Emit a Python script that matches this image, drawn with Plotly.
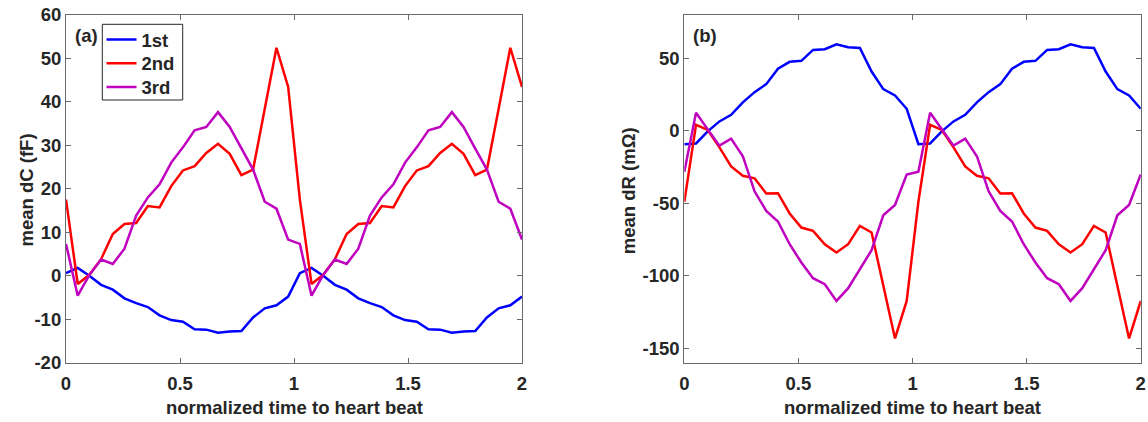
import numpy as np
import plotly.graph_objects as go

# Normalised time base: two heart beats, 20 samples per beat
beats = 2
samples_per_beat = 20
t = np.linspace(0, beats, beats * samples_per_beat)

series_names = ["1st", "2nd", "3rd"]
series_colors = ["#0000FF", "#FF0000", "#BF00BF"]

# Mean capacitance change per beat (fF)
dC_1st = [0.6, 1.8, 0.0, -2.1, -3.2, -5.2, -6.3, -7.2, -9.1, -10.2,
          -10.6, -12.3, -12.4, -13.1, -12.8, -12.7, -9.6, -7.5, -6.8, -4.8]
dC_2nd = [17.5, -1.9, 0.2, 3.8, 9.6, 11.9, 12.1, 16.0, 15.7, 20.6,
          24.2, 25.2, 28.2, 30.3, 28.0, 23.1, 24.4, 38.3, 52.4, 43.4]
dC_3rd = [7.3, -4.6, 0.2, 3.7, 2.7, 6.2, 13.8, 18.0, 21.0, 26.0,
          29.5, 33.4, 34.2, 37.6, 34.2, 29.2, 24.4, 17.0, 15.4, 8.3]

# Mean resistance change per beat (mOhm)
dR_1st = [-9.3, -8.8, -0.5, 6.4, 11.0, 19.5, 26.6, 32.1, 42.7, 47.5,
          48.2, 55.7, 56.2, 59.6, 57.6, 57.1, 40.8, 28.7, 24.3, 15.1]
dR_2nd = [-49.0, 4.1, 0.5, -11.5, -24.7, -31.1, -32.8, -43.3, -43.1, -57.1,
          -66.8, -69.1, -78.3, -84.0, -78.3, -65.6, -70.2, -107.0, -143.3, -117.4]
dR_3rd = [-28.3, 12.4, 0.9, -10.3, -5.5, -17.6, -41.8, -55.3, -62.6, -78.3,
          -90.9, -101.7, -105.9, -117.4, -108.6, -95.0, -82.4, -58.3, -51.2, -30.2]

x_ticks = [0, 0.5, 1, 1.5, 2]
x_ticktext = ["0", "0.5", "1", "1.5", "2"]
dC_ticks = [-20, -10, 0, 10, 20, 30, 40, 50, 60]
dR_ticks = [-150, -100, -50, 0, 50]

FONT = "Liberation Sans, Arial, Helvetica, sans-serif"
FS = 18.5
INK = "#262626"
AXIS = "#6a6a6a"


def px_x(p):
    return p / 1148


def px_y(p):
    return 1 - p / 422


fig = go.Figure()

panel_a = [dC_1st, dC_2nd, dC_3rd]
panel_b = [dR_1st, dR_2nd, dR_3rd]
legend_ids = ["legend", "legend2", "legend3"]

for name, color, beat, lid in zip(series_names, series_colors, panel_a, legend_ids):
    fig.add_trace(go.Scatter(
        x=t, y=beat * beats, mode="lines", name=name,
        line=dict(color=color, width=2.5),
        xaxis="x", yaxis="y", showlegend=True, legend=lid))

for name, color, beat in zip(series_names, series_colors, panel_b):
    fig.add_trace(go.Scatter(
        x=t, y=beat * beats, mode="lines", name=name,
        line=dict(color=color, width=2.5),
        xaxis="x2", yaxis="y2", showlegend=False))

axis_common = dict(
    showline=True, linecolor=AXIS, linewidth=1.2, mirror="allticks",
    ticks="inside", ticklen=5, tickwidth=1.2, tickcolor=AXIS,
    showgrid=False, zeroline=False, automargin=False,
    tickfont=dict(family=FONT, size=FS, color=INK, weight="bold"),
)

y_dom = [0.1405, 0.9652]

# One legend per entry so the rows sit at a tighter pitch inside a shared frame
legend_rows = [40.0, 63.7, 87.4]
legend_layout = {}
for lid, row in zip(legend_ids, legend_rows):
    legend_layout[lid] = dict(
        x=px_x(101.5), y=px_y(row), xanchor="left", yanchor="middle",
        borderwidth=0, bgcolor="rgba(0,0,0,0)",
        font=dict(family=FONT, size=FS, color=INK, weight="bold"))

fig.update_layout(
    width=1148, height=422,
    margin=dict(l=0, r=0, t=0, b=0, autoexpand=False),
    paper_bgcolor="white", plot_bgcolor="white",
    font=dict(family=FONT, size=FS, color=INK, weight="bold"),
    xaxis=dict(domain=[0.0575, 0.4547], range=[0, 2], anchor="y",
               tickvals=x_ticks, ticktext=x_ticktext, ticklabelstandoff=4,
               **axis_common),
    yaxis=dict(domain=y_dom, range=[-20, 60], anchor="x",
               tickvals=dC_ticks, ticktext=[str(v) for v in dC_ticks],
               **axis_common),
    xaxis2=dict(domain=[0.5961, 0.9937], range=[0, 2], anchor="y2",
                tickvals=x_ticks, ticktext=x_ticktext, ticklabelstandoff=4,
                **axis_common),
    yaxis2=dict(domain=y_dom, range=[-160, 80], anchor="x2",
                tickvals=dR_ticks, ticktext=[str(v) for v in dR_ticks],
                **axis_common),
    **legend_layout,
)

# Legend frame
fig.add_shape(type="rect", xref="paper", yref="paper",
              x0=px_x(102.3), x1=px_x(182.7), y0=px_y(100.0), y1=px_y(24.3),
              line=dict(color=INK, width=1), fillcolor="white", layer="above")

labels = [
    dict(text="(a)", x=px_x(86.7), y=px_y(35.5), textangle=0),
    dict(text="(b)", x=px_x(705.3), y=px_y(35.0), textangle=0),
    dict(text="normalized time to heart beat", x=px_x(294), y=px_y(407.5), textangle=0),
    dict(text="normalized time to heart beat", x=px_x(912.5), y=px_y(407.5), textangle=0),
    dict(text="mean dC (fF)", x=px_x(25.5), y=px_y(190), textangle=-90),
    dict(text="mean dR (mΩ)", x=px_x(628.7), y=px_y(190.5), textangle=-90),
]
for lab in labels:
    fig.add_annotation(
        text=lab["text"], x=lab["x"], y=lab["y"], xref="paper", yref="paper",
        xanchor="center", yanchor="middle", showarrow=False,
        textangle=lab["textangle"],
        font=dict(family=FONT, size=FS, color=INK, weight="bold"))

fig.write_html("out.html")
